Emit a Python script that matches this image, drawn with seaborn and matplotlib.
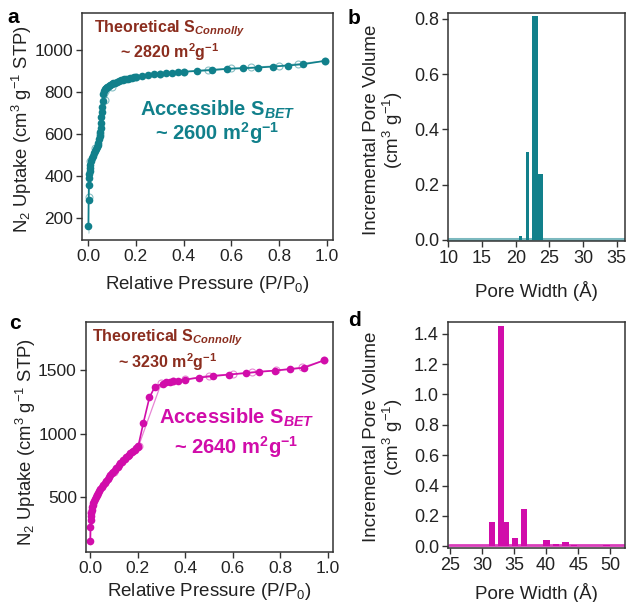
import numpy as np
import pandas as pd
import seaborn as sns
import matplotlib.pyplot as plt

# isotherm a (adsorption / desorption), P/P0 and uptake
ads_a_p = [0.001, 0.001, 0.001, 0.001, 0.001, 0.001, 0.002, 0.002, 0.002, 0.002, 0.003, 0.003,
           0.004, 0.005, 0.006, 0.008, 0.010, 0.013, 0.016, 0.020, 0.024, 0.028, 0.032, 0.036,
           0.040, 0.043, 0.046, 0.048, 0.050, 0.052, 0.054, 0.056, 0.058, 0.060, 0.062, 0.064,
           0.067, 0.071, 0.075, 0.080, 0.086, 0.092, 0.098, 0.105, 0.112, 0.120, 0.128, 0.136,
           0.144, 0.152, 0.160, 0.168, 0.176, 0.184, 0.192, 0.200, 0.225, 0.250, 0.275, 0.300,
           0.325, 0.350, 0.375, 0.400, 0.455, 0.520, 0.583, 0.647, 0.710, 0.775, 0.838, 0.900,
           0.990]
ads_a_v = [105, 125, 150, 175, 200, 225, 250, 275, 300, 325, 350, 370,
           390, 410, 425, 440, 455, 470, 485, 498, 510, 520, 530, 540,
           550, 560, 575, 590, 610, 630, 655, 680, 705, 730, 760, 790,
           806, 815, 821, 826, 831, 835, 839, 843, 846, 850, 853, 856,
           858, 861, 863, 865, 867, 869, 871, 873, 878, 882, 885, 888,
           890, 892, 894, 897, 901, 905, 911, 914, 917, 922, 927, 933,
           949]
des_a_p = [0.990, 0.880, 0.800, 0.680, 0.600, 0.500, 0.400, 0.300, 0.200, 0.100, 0.070, 0.050, 0.030, 0.010, 0.002]
des_a_v = [949, 935, 926, 918, 914, 908, 898, 888, 872, 826, 762, 600, 535, 470, 300]

# isotherm c
ads_c_p = [0.001, 0.001, 0.001, 0.001, 0.002, 0.002, 0.002, 0.003, 0.004, 0.005, 0.007, 0.009,
           0.011, 0.014, 0.017, 0.020, 0.024, 0.028, 0.033, 0.038, 0.044, 0.050, 0.056, 0.062,
           0.068, 0.074, 0.080, 0.086, 0.092, 0.098, 0.104, 0.110, 0.116, 0.122, 0.128, 0.134,
           0.140, 0.146, 0.152, 0.158, 0.164, 0.170, 0.176, 0.182, 0.188, 0.194, 0.200, 0.203,
           0.224, 0.250, 0.273, 0.307, 0.320, 0.335, 0.350, 0.370, 0.400, 0.459, 0.518, 0.585,
           0.655, 0.710, 0.777, 0.840, 0.900, 0.985]
ads_c_v = [110, 140, 170, 200, 230, 260, 290, 320, 350, 375, 400, 420,
           440, 455, 470, 485, 500, 515, 530, 545, 560, 578, 594, 610,
           625, 640, 655, 670, 685, 699, 712, 727, 740, 754, 767, 779,
           791, 802, 813, 824, 834, 844, 853, 862, 872, 884, 895, 902,
           1080, 1285, 1370, 1395, 1405, 1410, 1415, 1418, 1425, 1442, 1453, 1466,
           1477, 1487, 1497, 1508, 1520, 1579]
des_c_p = [0.985, 0.890, 0.780, 0.680, 0.600, 0.500, 0.400, 0.350, 0.300, 0.205, 0.100, 0.030, 0.005]
des_c_v = [1579, 1522, 1500, 1485, 1470, 1458, 1428, 1418, 1400, 905, 700, 515, 380]

# pore size distributions: left edge, width, height
psd_b_left = [20.41, 21.5, 22.43, 23.35]
psd_b_width = [0.5, 0.44, 0.92, 0.69]
psd_b_height = [0.015, 0.32, 0.81, 0.24]

psd_d_left = [31.07, 32.5, 33.45, 34.6, 36.06, 39.5, 41.0, 42.5, 43.85, 48.9]
psd_d_width = [0.93, 0.95, 0.75, 0.95, 0.98, 1.1, 1.0, 1.0, 0.95, 1.0]
psd_d_height = [0.163, 1.45, 0.16, 0.058, 0.245, 0.043, 0.017, 0.026, 0.010, 0.012]

teal = '#11808B'
magenta = '#D10DAA'
brown = '#8B2D1E'
dark = '#222222'

sns.set_style('ticks')
plt.rcParams['font.family'] = ['Liberation Sans', 'DejaVu Sans']
plt.rcParams['mathtext.fontset'] = 'custom'
plt.rcParams['mathtext.rm'] = 'Liberation Sans'
plt.rcParams['mathtext.it'] = 'Liberation Sans:italic'
plt.rcParams['mathtext.bf'] = 'Liberation Sans:bold'
plt.rcParams['mathtext.bfit'] = 'Liberation Sans:italic:bold'

fig = plt.figure(figsize=(6.27, 6.02), dpi=100)
ax_a = fig.add_axes([0.131, 0.601, 0.400, 0.377])
ax_b = fig.add_axes([0.7145, 0.600, 0.2825, 0.379])
ax_c = fig.add_axes([0.137, 0.083, 0.394, 0.382])
ax_d = fig.add_axes([0.7145, 0.0897, 0.2825, 0.3753])


def style(ax, size):
    for s in ax.spines.values():
        s.set_visible(True)
        s.set_color('#333333')
        s.set_linewidth(1.1)
    ax.tick_params(direction='out', length=4, width=1, colors='#333333',
                   labelsize=size, labelcolor=dark, top=False, right=False, pad=2.5)


def isotherm(ax, ap, av, dp, dv, color):
    des = pd.DataFrame({'p': dp, 'v': dv})
    ads = pd.DataFrame({'p': ap, 'v': av})
    sns.lineplot(data=des, x='p', y='v', ax=ax, color=color, alpha=0.5, lw=0.9,
                 sort=False, marker='o', markersize=5, markerfacecolor='none',
                 markeredgecolor=color, markeredgewidth=0.8)
    sns.lineplot(data=ads, x='p', y='v', ax=ax, color=color, lw=1.2, sort=False,
                 marker='o', markersize=5.5, markeredgewidth=0, markerfacecolor=color)


isotherm(ax_a, ads_a_p, ads_a_v, des_a_p, des_a_v, teal)
ax_a.set_xlim(-0.025, 1.025)
ax_a.set_ylim(95, 1176)
ax_a.set_xticks(np.arange(0, 1.01, 0.2))
ax_a.set_yticks([200, 400, 600, 800, 1000])

isotherm(ax_c, ads_c_p, ads_c_v, des_c_p, des_c_v, magenta)
ax_c.set_xlim(-0.017, 1.021)
ax_c.set_ylim(65, 1880)
ax_c.set_xticks(np.arange(0, 1.01, 0.2))
ax_c.set_yticks([500, 1000, 1500])

for ax in (ax_a, ax_c):
    ax.xaxis.set_major_formatter(plt.FormatStrFormatter('%.1f'))
    ax.set_xlabel('Relative Pressure (P/P$_0$)', fontsize=13.5, color=dark)
    ax.set_ylabel('N$_2$ Uptake (cm$^3$ g$^{-1}$ STP)', fontsize=13.3, color=dark)
    style(ax, 12.5)
ax_a.yaxis.set_label_coords(-0.19, 0.49)
ax_a.xaxis.set_label_coords(0.5, -0.15)
ax_c.yaxis.set_label_coords(-0.195, 0.48)
ax_c.xaxis.set_label_coords(0.5, -0.125)

# pore size distributions
ax_b.plot([9.95, 36.2], [0.003, 0.003], color=teal, alpha=0.55, lw=2.2)
ax_b.bar(psd_b_left, psd_b_height, width=psd_b_width, align='edge', color=teal, lw=0)
ax_b.set_xlim(9.93, 36.25)
ax_b.set_ylim(-0.003, 0.823)
ax_b.set_xticks([10, 15, 20, 25, 30, 35])
ax_b.set_yticks([0, 0.2, 0.4, 0.6, 0.8])

ax_d.plot([24.8, 52.2], [0.006, 0.006], color=magenta, alpha=0.8, lw=2)
ax_d.bar(psd_d_left, psd_d_height, width=psd_d_width, align='edge', color=magenta, lw=0)
ax_d.set_xlim(24.7, 52.3)
ax_d.set_ylim(-0.011, 1.476)
ax_d.set_xticks([25, 30, 35, 40, 45, 50])
ax_d.set_yticks(np.arange(0, 1.41, 0.2))

for ax in (ax_b, ax_d):
    ax.yaxis.set_major_formatter(plt.FormatStrFormatter('%.1f'))
    ax.set_xlabel('Pore Width (Å)', fontsize=13.5, color=dark)
    ax.set_ylabel('Incremental Pore Volume\n(cm$^3$ g$^{-1}$)', fontsize=13.5, color=dark,
                  linespacing=1.05)
    style(ax, 13)
ax_b.yaxis.set_label_coords(-0.245, 0.485)
ax_b.xaxis.set_label_coords(0.5, -0.175)
ax_d.yaxis.set_label_coords(-0.245, 0.49)
ax_d.xaxis.set_label_coords(0.5, -0.155)

# annotations
ann = [(ax_a, 0.35, 0.934, 0.828, 0.54, 0.573, 0.47, '2820', '2600', teal),
       (ax_c, 0.33, 0.930, 0.826, 0.61, 0.583, 0.457, '3230', '2640', magenta)]
for ax, tx, ty1, ty2, ax2, ay1, ay2, conn, bet, col in ann:
    ax.text(tx, ty1, r'Theoretical S$_{\mathbfit{Connolly}}$', transform=ax.transAxes,
            ha='center', va='center', fontsize=11.5, fontweight='bold', color=brown)
    ax.text(tx, ty2, r'~ ' + conn + r' m$^{\mathbf{2}}$g$^{\mathbf{-1}}$', transform=ax.transAxes,
            ha='center', va='center', fontsize=11.5, fontweight='bold', color=brown)
    ax.text(ax2, ay1, r'Accessible S$_{\mathbfit{BET}}$', transform=ax.transAxes,
            ha='center', va='center', fontsize=14.5, fontweight='bold', color=col)
    ax.text(ax2, ay2, r'~ ' + bet + r' m$^{\mathbf{2}}$g$^{\mathbf{-1}}$', transform=ax.transAxes,
            ha='center', va='center', fontsize=14.5, fontweight='bold', color=col)

for lab, x, y in [('a', 7, 23), ('b', 348, 24), ('c', 9, 329), ('d', 348, 326)]:
    fig.text(x / 627, 1 - y / 602, lab, fontsize=15, fontweight='bold', color='black',
             ha='left', va='baseline')

fig.savefig('out.png', dpi=100)
